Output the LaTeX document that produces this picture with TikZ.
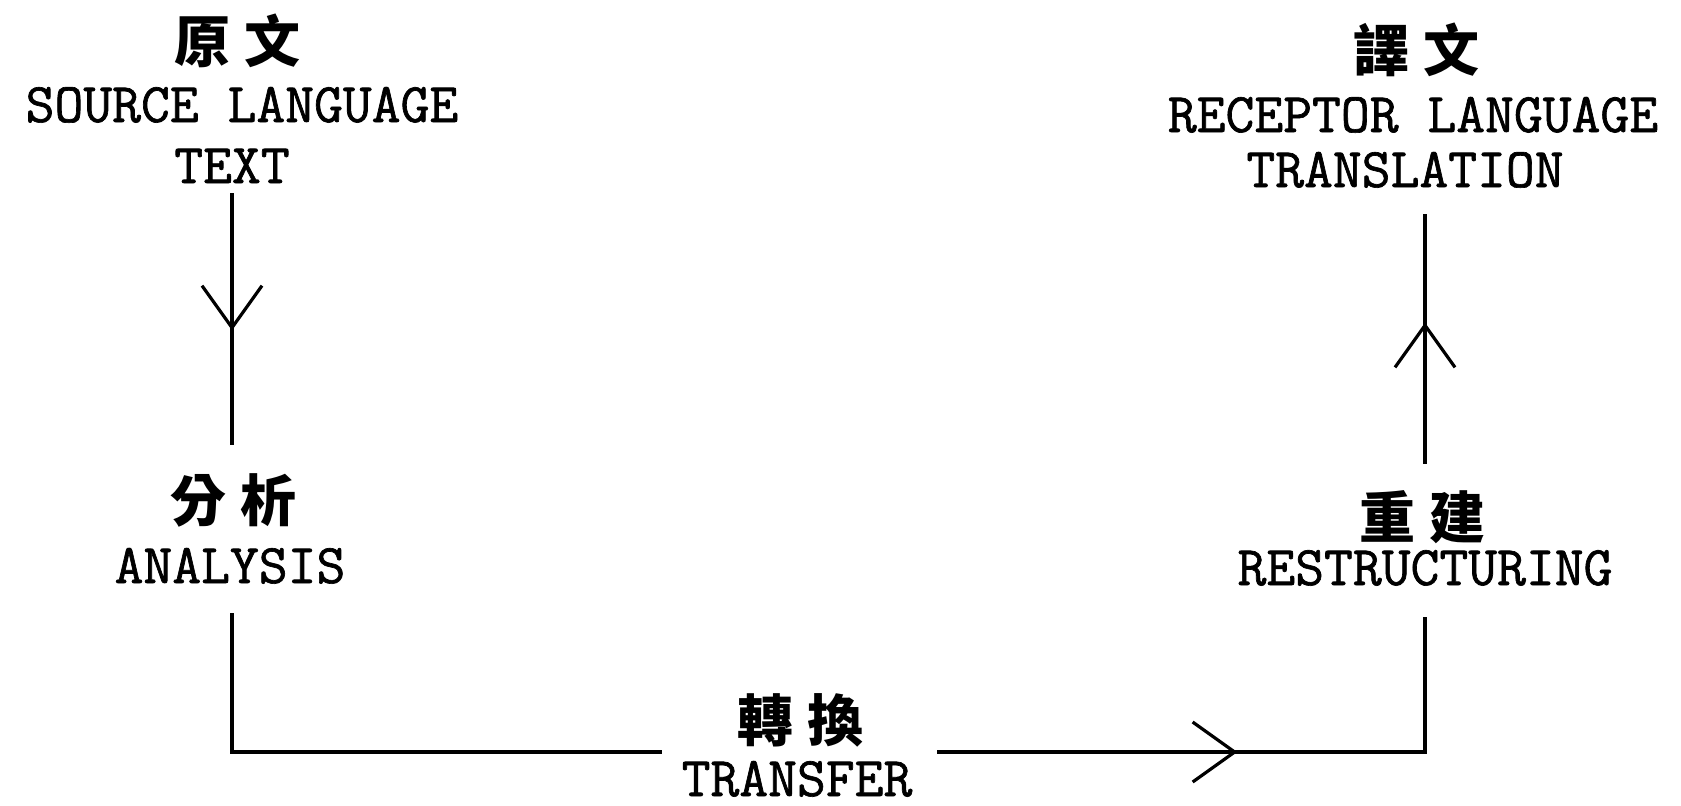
\documentclass[tikz,border=0pt]{standalone}
\usepackage{fontspec}
\newfontfamily\cjk{Noto Sans CJK TC}
\newfontfamily\monob{Latin Modern Mono}[FakeBold=1.2]
\usetikzlibrary{arrows.meta,decorations.markings,calc}
\begin{document}
\begin{tikzpicture}[x=0.5pt,y=-0.5pt,
  cjkl/.style={font=\cjk\bfseries\fontsize{28pt}{28pt}\selectfont, inner sep=0pt, anchor=base, text height=23pt, text depth=2pt},
  latl/.style={font=\monob\fontsize{28pt}{28pt}\selectfont, inner sep=0pt, anchor=base, text height=17pt, text depth=0pt},
  link/.style={line width=1.6pt},
  barb/.style={postaction={decorate,decoration={markings,mark=at position #1 with {\arrow{Straight Barb[length=21pt,width=30pt,line width=1.6pt]}}}}}
]
\fill[white] (0,0) rectangle (1681,805);
\useasboundingbox (0,0) rectangle (1681,805);

% source
\node[cjkl] (srcC) at (237,62) {原\hspace{7pt}文};
\node[latl] (srcL) at (242,122) {SOURCE LANGUAGE};
\node[latl] (srcT) at (232,183) {TEXT};
% target
\node[cjkl] (tgtC) at (1416,71) {譯\hspace{7pt}文};
\node[latl] (tgtL) at (1413,132) {RECEPTOR LANGUAGE};
\node[latl] (tgtT) at (1405,187) {TRANSLATION};
% analysis
\node[cjkl] (anaC) at (233,521) {分\hspace{7pt}析};
\node[latl] (anaE) at (230,583) {ANALYSIS};
% restructuring
\node[cjkl] (rsC) at (1422,538) {重\hspace{7pt}建};
\node[latl] (rsE) at (1425,585) {RESTRUCTURING};
% transfer
\node[cjkl] (tfC) at (800,741) {轉\hspace{7pt}換};
\node[latl] (tfE) at (797,796) {TRANSFER};

\coordinate (bl) at (232,752);
\coordinate (br) at (1425,752);

\draw[link, barb=68.5pt] ($(srcT.south)+(0,10)$) -- ($(anaC.north -| srcT.south)+(0,-30)$);
\draw[link] ($(anaE.south -| bl)+(0,30)$) -- (bl) -- ($(tfC.west |- bl)+(-75,0)$);
\draw[link, barb=150pt] ($(tfC.east |- br)+(74,0)$) -- (br) -- ($(rsE.south -| br)+(0,32)$);
\draw[link, barb=70.5pt] ($(rsC.north -| br)+(0,-28)$) -- ($(tgtT.south -| br)+(0,27)$);
\end{tikzpicture}
\end{document}
